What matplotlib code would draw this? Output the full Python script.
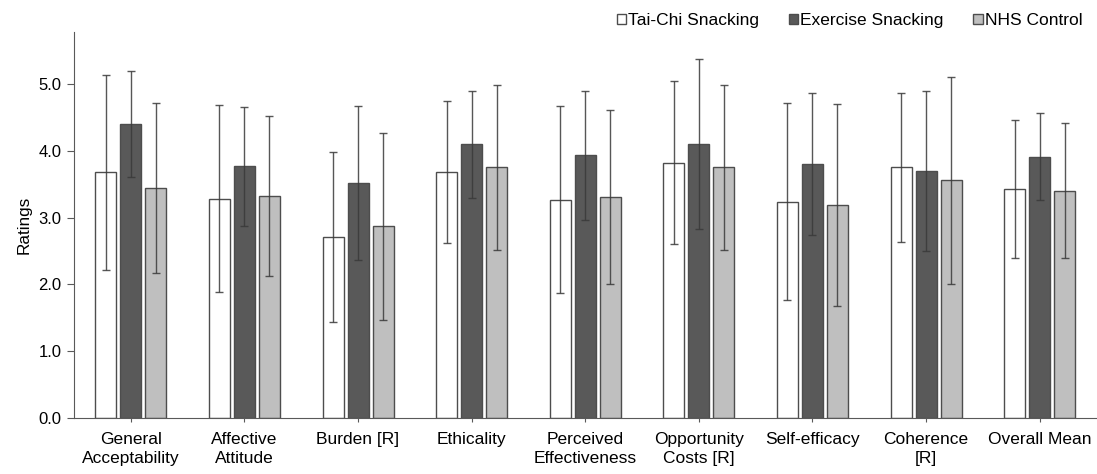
import numpy as np
import matplotlib.pyplot as plt

plt.rcParams['font.family'] = ['Liberation Sans', 'DejaVu Sans']

categories = ["General\nAcceptability", "Affective\nAttitude", "Burden [R]", "Ethicality",
              "Perceived\nEffectiveness", "Opportunity\nCosts [R]", "Self-efficacy",
              "Coherence\n[R]", "Overall Mean"]

taichi_mean = [3.68, 3.28, 2.71, 3.68, 3.27, 3.82, 3.24, 3.75, 3.43]
taichi_sd = [1.46, 1.40, 1.27, 1.06, 1.40, 1.22, 1.47, 1.11, 1.03]
exercise_mean = [4.40, 3.77, 3.52, 4.10, 3.93, 4.10, 3.80, 3.70, 3.91]
exercise_sd = [0.80, 0.89, 1.15, 0.80, 0.96, 1.27, 1.06, 1.20, 0.65]
nhs_mean = [3.44, 3.32, 2.87, 3.75, 3.31, 3.75, 3.19, 3.56, 3.40]
nhs_sd = [1.27, 1.20, 1.40, 1.24, 1.30, 1.24, 1.51, 1.55, 1.01]

series = [("Tai-Chi Snacking", taichi_mean, taichi_sd, "white"),
          ("Exercise Snacking", exercise_mean, exercise_sd, "#595959"),
          ("NHS Control", nhs_mean, nhs_sd, "#bfbfbf")]

fig = plt.figure(figsize=(10.97, 4.74), dpi=100)
ax = fig.add_axes([0.0675, 0.118, 0.932, 0.815])

x = np.arange(len(categories))
w = 0.185
step = 0.22
for i, (name, m, s, c) in enumerate(series):
    ax.bar(x + (i - 1) * step, m, w, color=c, edgecolor="#4d4d4d", linewidth=1.0,
           label=name, zorder=2)
    ax.errorbar(x + (i - 1) * step, m, yerr=s, fmt="none", ecolor="#3a3a3a",
                elinewidth=1.0, capsize=3, capthick=1.0, alpha=0.85, zorder=3)

ax.set_xlim(-0.5, len(categories) - 0.5)
ax.set_ylim(0, 5.78)
ax.set_yticks(np.arange(0, 5.1, 1.0))
ax.set_yticklabels(["%.1f" % v for v in np.arange(0, 5.1, 1.0)])
ax.set_xticks(x)
ax.set_xticklabels(categories, fontsize=12.5, linespacing=1.35)
ax.tick_params(axis="y", labelsize=12, length=5, pad=4, color="#595959")
ax.tick_params(axis="x", length=3, pad=7, color="#595959")
ax.set_ylabel("Ratings", fontsize=12.3, labelpad=5)
for sp in ["top", "right"]:
    ax.spines[sp].set_visible(False)
for sp in ["left", "bottom"]:
    ax.spines[sp].set_color("#595959")

fig.legend(loc="upper right", bbox_to_anchor=(1.001, 1.005), ncol=3, frameon=False,
           fontsize=12.5, handlelength=0.55, handleheight=0.55, handletextpad=0.12,
           columnspacing=1.7)

fig.savefig("out.png", dpi=100)
